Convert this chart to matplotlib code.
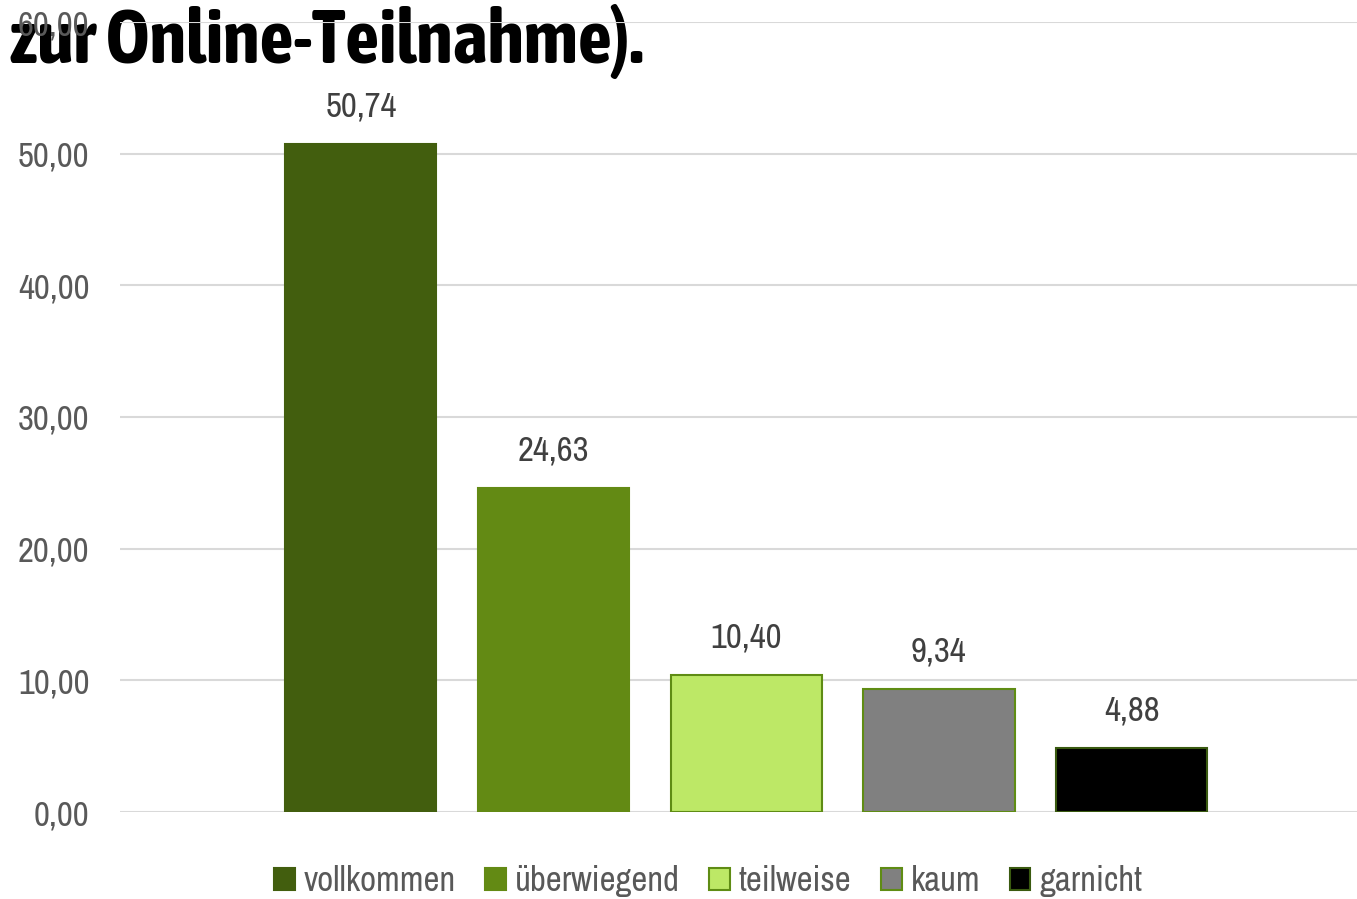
import matplotlib
matplotlib.use("Agg")
import matplotlib.pyplot as plt
from matplotlib.patches import Patch
from matplotlib.ticker import FuncFormatter

categories = ["vollkommen", "überwiegend", "teilweise", "kaum", "garnicht"]
values = [50.74, 24.63, 10.40, 9.34, 4.88]
colors = ["#425e0e", "#638a14", "#bde866", "#808080", "#000000"]
edges = ["#425e0e", "#638a14", "#5f8c14", "#5f8c14", "#3a5a10"]
yticks = [0, 10, 20, 30, 40, 50, 60]

# narrow fonts, close to Arial Narrow of the original
plt.rcParams['font.family'] = ['Archivo Narrow', 'DejaVu Sans']

fig = plt.figure(figsize=(13.57, 8.99), dpi=100)
ax = fig.add_axes([120/1357, 1 - 812/899, 1 - 120/1357, (812 - 22)/899])
ax.patch.set_visible(False)  # so the title under the axes shows

x = list(range(len(values)))
bars = ax.bar(x, values, width=0.785, color=colors, edgecolor=edges, linewidth=1.5, zorder=3)
for xi, v in zip(x, values):
    ax.text(xi, v + 1.6, f"{v:.2f}".replace(".", ","), ha="center", va="bottom",
            fontsize=25, color="#404040")

ax.set_xlim(-1.25, 5.17)
ax.set_ylim(0, 60)
ax.set_yticks(yticks)
ax.yaxis.set_major_formatter(FuncFormatter(lambda v, p: f"{v:.2f}".replace(".", ",")))
ax.tick_params(axis="y", length=0, labelsize=25, labelcolor="#595959", pad=22)
ax.set_xticks([])
ax.grid(axis="y", color="#d9d9d9", linewidth=1.5, zorder=0)
for s in ax.spines.values():
    s.set_visible(False)

handles = [Patch(facecolor=c, edgecolor=e, linewidth=1.5) for c, e in zip(colors, edges)]
fig.legend(handles, categories, loc="center", bbox_to_anchor=(708/1357, 1 - 881/899), ncol=5,
           frameon=False, fontsize=25, labelcolor="#595959", handlelength=0.6,
           handleheight=0.6, handletextpad=0.25, columnspacing=0.85)

fig.text(10/1357, 1 - 63/899, "zur Online-Teilnahme).", fontsize=54, fontweight="bold",
         family=["Asap Condensed", "DejaVu Sans"], color="black", ha="left", va="baseline",
         zorder=-1)

fig.savefig("out.png", dpi=100)
